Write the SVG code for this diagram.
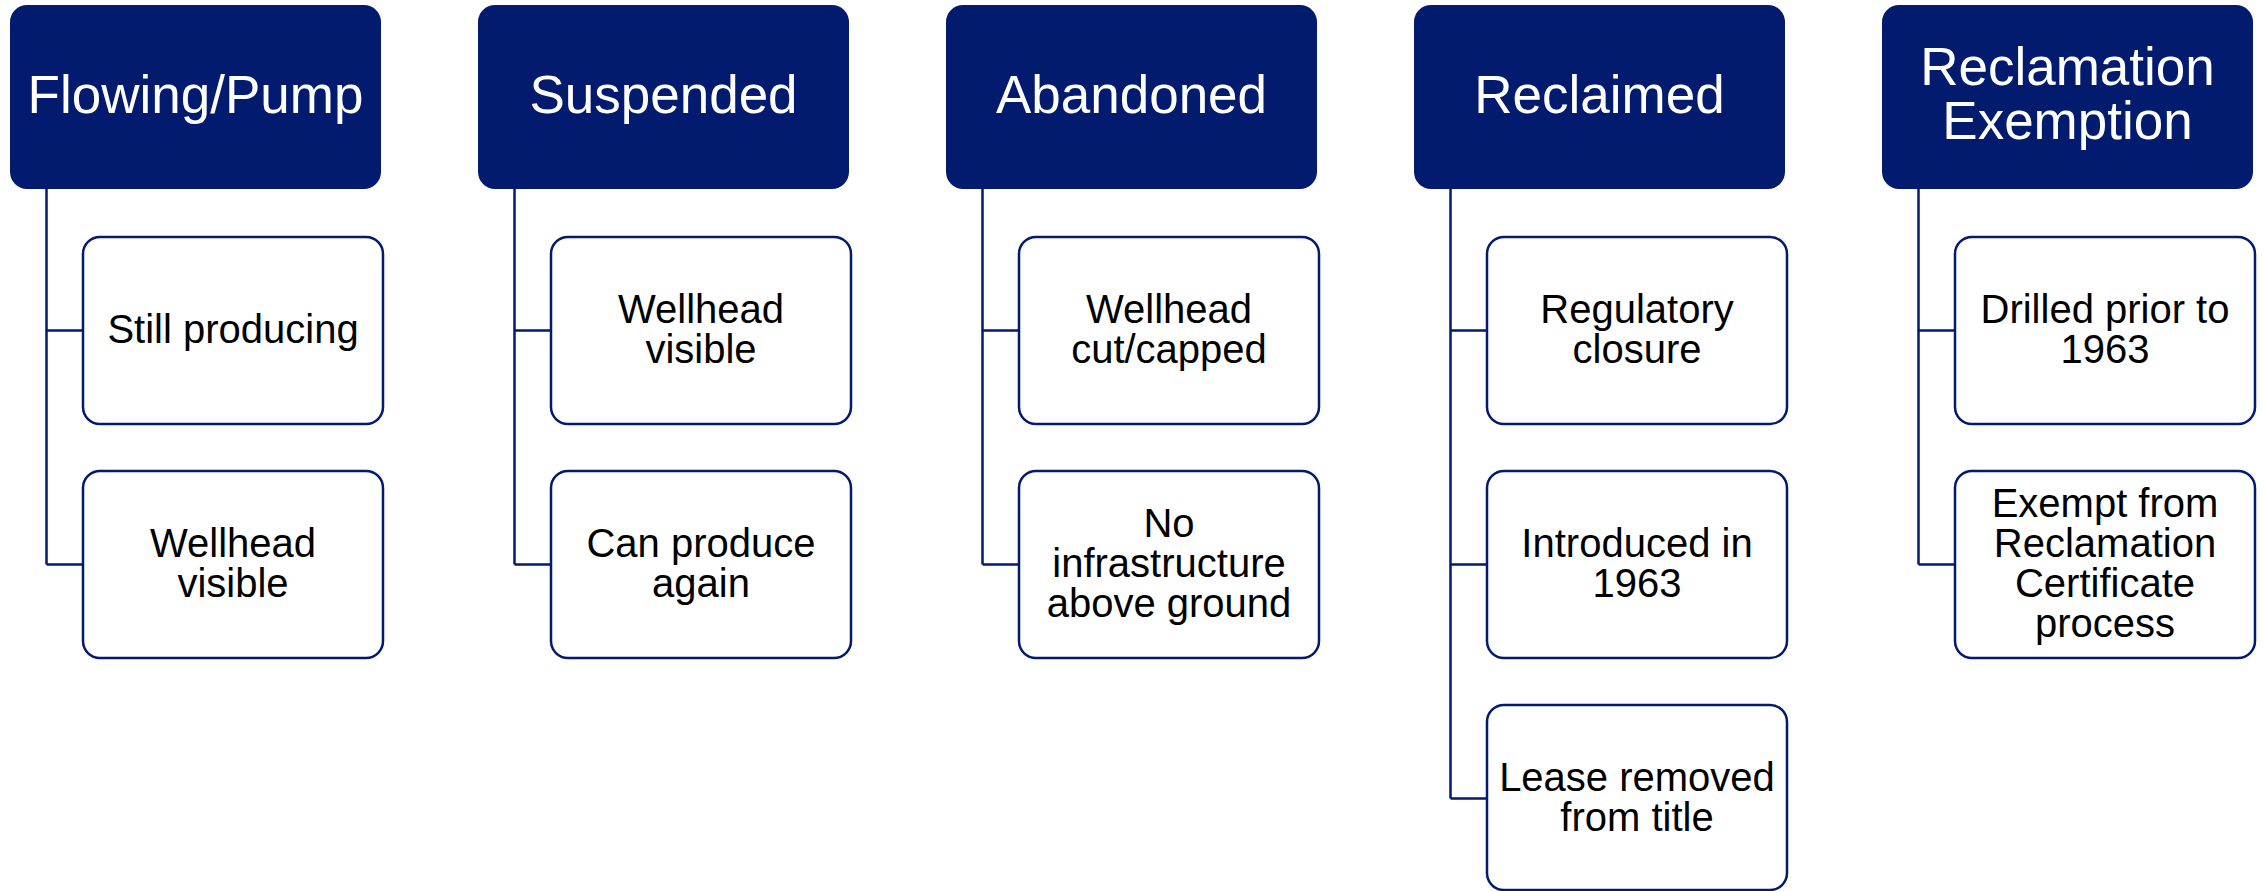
<svg xmlns="http://www.w3.org/2000/svg" width="2264" height="891" viewBox="0 0 2264 891">
<style>
.hdr{fill:#021B6E;}
.hdrt{fill:#ffffff;font-family:"Liberation Sans",Arial,sans-serif;font-size:53px;text-anchor:middle;}
.box{fill:#ffffff;stroke:#021B6E;stroke-width:2.5;}
.bt{fill:#000000;font-family:"Liberation Sans",Arial,sans-serif;font-size:40px;text-anchor:middle;}
.con{fill:none;stroke:#021B6E;stroke-width:2.5;}
</style>
<rect width="2264" height="891" fill="#ffffff"/>
<g id="connectors">
<path class="con" d="M46.5 189 V564.5 M46.5 330.5 H83 M46.5 564.5 H83" transform="translate(0 0)"/>
<path class="con" d="M46.5 189 V564.5 M46.5 330.5 H83 M46.5 564.5 H83" transform="translate(468 0)"/>
<path class="con" d="M46.5 189 V564.5 M46.5 330.5 H83 M46.5 564.5 H83" transform="translate(936 0)"/>
<path class="con" d="M46.5 189 V798.5 M46.5 330.5 H83 M46.5 564.5 H83 M46.5 798.5 H83" transform="translate(1404 0)"/>
<path class="con" d="M46.5 189 V564.5 M46.5 330.5 H83 M46.5 564.5 H83" transform="translate(1872 0)"/>
</g>
<g id="flowing_pump">
<rect class="hdr" x="10" y="5" width="371" height="184" rx="17"/>
<text class="hdrt" x="195.5" y="112.5">Flowing/Pump</text>
</g>
<g id="fp_still_producing">
<rect class="box" x="83" y="237" width="300" height="187" rx="17"/>
<text class="bt" x="233" y="342.5">Still producing</text>
</g>
<g id="fp_wellhead_visible">
<rect class="box" x="83" y="471" width="300" height="187" rx="17"/>
<text class="bt" x="233" y="556.5">Wellhead</text>
<text class="bt" x="233" y="596.5">visible</text>
</g>
<g id="suspended">
<rect class="hdr" x="478" y="5" width="371" height="184" rx="17"/>
<text class="hdrt" x="663.5" y="112.5">Suspended</text>
</g>
<g id="su_wellhead_visible">
<rect class="box" x="551" y="237" width="300" height="187" rx="17"/>
<text class="bt" x="701" y="322.5">Wellhead</text>
<text class="bt" x="701" y="362.5">visible</text>
</g>
<g id="su_can_produce">
<rect class="box" x="551" y="471" width="300" height="187" rx="17"/>
<text class="bt" x="701" y="556.5">Can produce</text>
<text class="bt" x="701" y="596.5">again</text>
</g>
<g id="abandoned">
<rect class="hdr" x="946" y="5" width="371" height="184" rx="17"/>
<text class="hdrt" x="1131.5" y="112.5">Abandoned</text>
</g>
<g id="ab_cut_capped">
<rect class="box" x="1019" y="237" width="300" height="187" rx="17"/>
<text class="bt" x="1169" y="322.5">Wellhead</text>
<text class="bt" x="1169" y="362.5">cut/capped</text>
</g>
<g id="ab_no_infra">
<rect class="box" x="1019" y="471" width="300" height="187" rx="17"/>
<text class="bt" x="1169" y="536.5">No</text>
<text class="bt" x="1169" y="576.5">infrastructure</text>
<text class="bt" x="1169" y="616.5">above ground</text>
</g>
<g id="reclaimed">
<rect class="hdr" x="1414" y="5" width="371" height="184" rx="17"/>
<text class="hdrt" x="1599.5" y="112.5">Reclaimed</text>
</g>
<g id="re_regulatory">
<rect class="box" x="1487" y="237" width="300" height="187" rx="17"/>
<text class="bt" x="1637" y="322.5">Regulatory</text>
<text class="bt" x="1637" y="362.5">closure</text>
</g>
<g id="re_introduced">
<rect class="box" x="1487" y="471" width="300" height="187" rx="17"/>
<text class="bt" x="1637" y="556.5">Introduced in</text>
<text class="bt" x="1637" y="596.5">1963</text>
</g>
<g id="re_lease">
<rect class="box" x="1487" y="705" width="300" height="185" rx="17"/>
<text class="bt" x="1637" y="790.5">Lease removed</text>
<text class="bt" x="1637" y="830.5">from title</text>
</g>
<g id="reclamation_exemption">
<rect class="hdr" x="1882" y="5" width="371" height="184" rx="17"/>
<text class="hdrt" x="2067.5" y="85">Reclamation</text>
<text class="hdrt" x="2067.5" y="139">Exemption</text>
</g>
<g id="rx_drilled">
<rect class="box" x="1955" y="237" width="300" height="187" rx="17"/>
<text class="bt" x="2105" y="322.5">Drilled prior to</text>
<text class="bt" x="2105" y="362.5">1963</text>
</g>
<g id="rx_exempt">
<rect class="box" x="1955" y="471" width="300" height="187" rx="17"/>
<text class="bt" x="2105" y="516.5">Exempt from</text>
<text class="bt" x="2105" y="556.5">Reclamation</text>
<text class="bt" x="2105" y="596.5">Certificate</text>
<text class="bt" x="2105" y="636.5">process</text>
</g>
</svg>
